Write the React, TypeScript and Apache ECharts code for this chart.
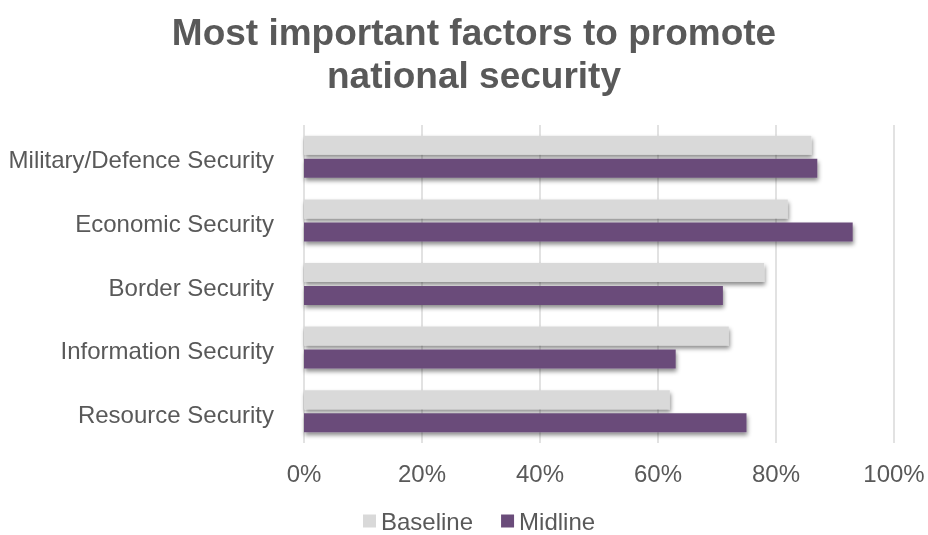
import React, { useEffect, useRef } from "react";
import * as echarts from "echarts";

const titleLines = ["Most important factors to promote", "national security"];
const categories = [
  "Military/Defence Security",
  "Economic Security",
  "Border Security",
  "Information Security",
  "Resource Security",
];
const baseline = [86, 82, 78, 72, 62];
const midline = [87, 93, 71, 63, 75];
const xTicks = [0, 20, 40, 60, 80, 100];

const TEXT = "#595959";
const FONT = "'Liberation Sans', Arial, sans-serif";

export default function App() {
  const ref = useRef<HTMLDivElement>(null);
  useEffect(() => {
    if (!ref.current) return;
    const chart = echarts.init(ref.current, undefined, { renderer: "svg" });
    const shadow = {
      shadowColor: "rgba(0,0,0,0.45)",
      shadowBlur: 4,
      shadowOffsetX: 1,
      shadowOffsetY: 3,
    };
    chart.setOption({
      animation: false,
      graphic: titleLines.map((t, i) => ({
        type: "text",
        x: 474,
        y: 32 + i * 43,
        style: {
          text: t,
          align: "center",
          verticalAlign: "middle",
          fontFamily: FONT,
          fontWeight: "bold",
          fontSize: 37,
          fill: TEXT,
        },
      })),
      grid: { left: 304, right: 34, top: 125, bottom: 92 },
      legend: {
        top: 509,
        left: 363,
        padding: 0,
        itemWidth: 13,
        itemHeight: 13,
        itemGap: 28,
        icon: "rect",
        textStyle: { fontFamily: FONT, fontSize: 24, color: TEXT, lineHeight: 24 },
        data: ["Baseline", "Midline"],
      },
      xAxis: {
        type: "value",
        min: 0,
        max: 100,
        interval: 20,
        axisLine: { show: false },
        axisTick: { show: false },
        splitLine: { show: true, lineStyle: { color: "#d9d9d9", width: 1.5 } },
        axisLabel: {
          fontFamily: FONT,
          fontSize: 24,
          color: TEXT,
          margin: 18,
          formatter: (v: number) => (xTicks.includes(v) ? v + "%" : ""),
        },
      },
      yAxis: {
        type: "category",
        data: categories,
        inverse: true,
        axisLine: { show: false },
        axisTick: { show: false },
        axisLabel: {
          margin: 30,
          formatter: (v: string) => `{a|${v}}`,
          rich: {
            a: {
              fontFamily: FONT,
              fontSize: 24,
              color: TEXT,
              padding: [6, 0, 0, 0],
            },
          },
        },
      },
      series: [
        {
          name: "Baseline",
          type: "bar",
          data: baseline,
          barGap: "21%",
          barCategoryGap: "34%",
          itemStyle: { color: "#d9d9d9", ...shadow },
        },
        {
          name: "Midline",
          type: "bar",
          data: midline,
          barGap: "21%",
          barCategoryGap: "34%",
          itemStyle: { color: "#6a4c7a", ...shadow },
        },
      ],
    });
    return () => chart.dispose();
  }, []);
  return (
    <div
      ref={ref}
      style={{ position: "fixed", left: 0, top: 0, width: 928, height: 535 }}
    />
  );
}
